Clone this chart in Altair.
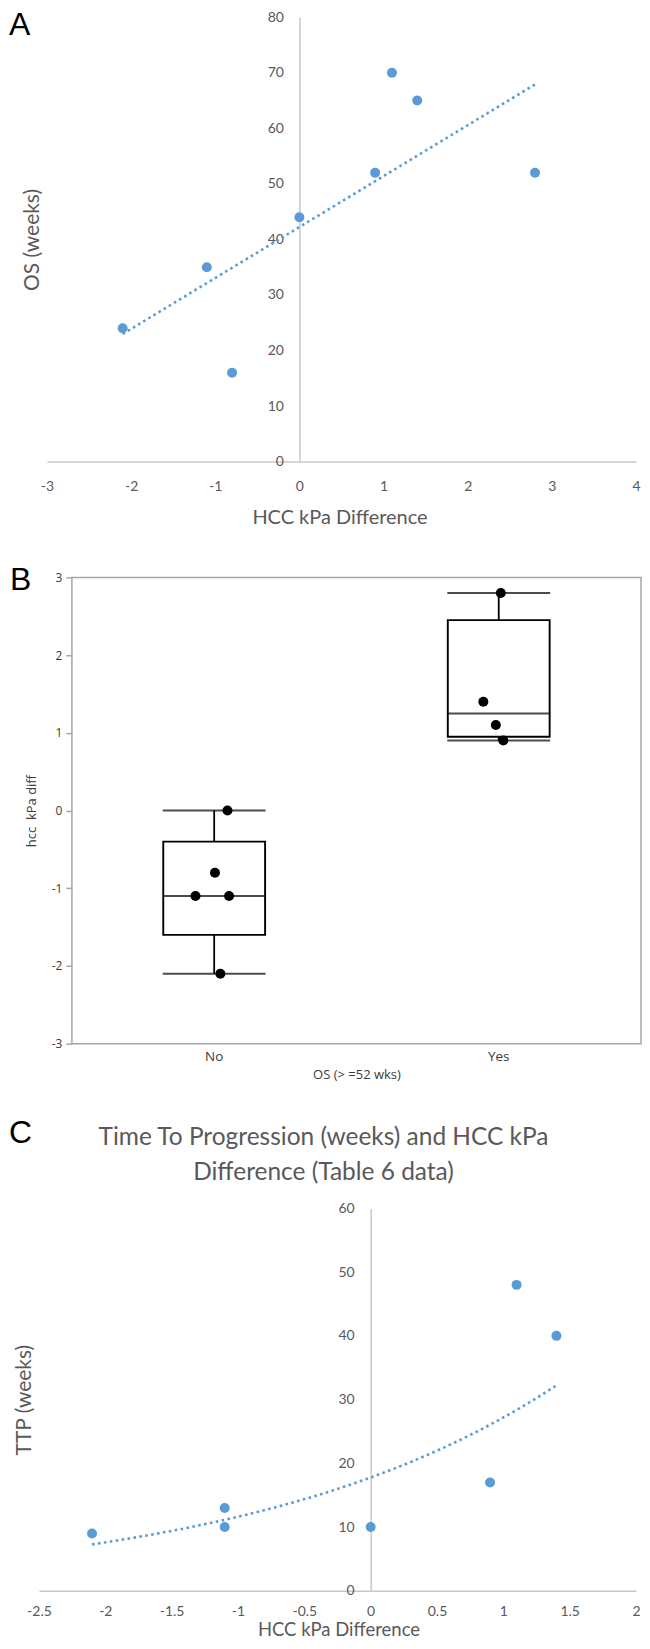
import altair as alt
import numpy as np
import pandas as pd

# ---------------- data ----------------
panel_letters = ["A", "B", "C"]

# Panel A: OS (weeks) vs HCC kPa difference
a_kpa_diff = [-2.1, -1.1, -0.8, 0.0, 0.9, 1.1, 1.4, 2.8]
a_os_weeks = [24, 35, 16, 44, 52, 70, 65, 52]
a_x_ticks = [-3, -2, -1, 0, 1, 2, 3, 4]
a_y_ticks = [0, 10, 20, 30, 40, 50, 60, 70, 80]

# Panel B: box plot of hcc kPa diff by OS >= 52 weeks
b_categories = ["No", "Yes"]
b_group = ["No", "No", "No", "No", "No", "Yes", "Yes", "Yes", "Yes"]
b_kpa = [0.0, -0.8, -1.1, -1.1, -2.1, 2.8, 1.4, 1.1, 0.9]
b_jitter = [13.3, 0.8, -18.7, 14.9, 6.2, 2.1, -15.4, -2.9, 4.6]
b_y_ticks = [-3, -2, -1, 0, 1, 2, 3]

# Panel C: TTP (weeks) vs HCC kPa difference
c_title = ["Time To Progression (weeks) and HCC kPa", "Difference (Table 6 data)"]
c_kpa_diff = [-2.1, -1.1, -1.1, 0.0, 0.9, 1.1, 1.4]
c_ttp_weeks = [9, 13, 10, 10, 17, 48, 40]
c_x_ticks = [-2.5, -2, -1.5, -1, -0.5, 0, 0.5, 1, 1.5, 2]
c_y_ticks = [0, 10, 20, 30, 40, 50, 60]

# ---------------- styles ----------------
XL_FONT = "Lato"
XL_TEXT = "#595959"
XL_AXIS = "#c8c8c8"
XL_BLUE = "#5b9bd5"
JMP_FONT = "Open Sans"
JMP_TEXT = "#3a3a3a"
JMP_FRAME = "#a6a6a6"
LETTER_FONT = "Liberation Sans"
NUM_LABEL = "'' + datum.value"
PAGE_LEFT = 9  # page x where the panel letters start (8px body margin + 1px column)


def letter(ch, x, y):
    return alt.Chart(pd.DataFrame({"t": [ch]})).mark_text(
        font=LETTER_FONT, fontSize=32, color="black", align="left", baseline="top"
    ).encode(text="t:N", x=alt.value(x), y=alt.value(y))


def spacer(x, y_top, y_bottom):
    return alt.Chart(pd.DataFrame({"s": [0]})).mark_rule(
        strokeOpacity=0, strokeWidth=1
    ).encode(x=alt.value(x), y=alt.value(y_top), y2=alt.value(y_bottom))


def blank():
    # 1px wide empty column so each panel is placed by its own left extent
    return alt.Chart(pd.DataFrame({"s": [0]})).mark_rule(
        strokeOpacity=0, strokeWidth=1
    ).encode(x=alt.value(0), y=alt.value(0), y2=alt.value(1)).properties(width=1, height=1)


# ---------------- Panel A ----------------
A_LEFT = 47
A_W, A_H = 590, 445
a_zero = A_W * 3 / 7
a_letter_x = -(A_LEFT - PAGE_LEFT)
dfA = pd.DataFrame({"kpa": a_kpa_diff, "os": a_os_weeks})

a_x = alt.X(
    "kpa:Q",
    scale=alt.Scale(domain=[-3, 4], nice=False, zero=False),
    axis=alt.Axis(
        values=a_x_ticks, labelExpr=NUM_LABEL, title="HCC kPa Difference",
        grid=False, ticks=False, tickSize=0, labelPadding=18, labelFlush=False,
        labelOverlap=False, labelFont=XL_FONT, labelFontSize=14, labelColor=XL_TEXT,
        domainColor=XL_AXIS, domainWidth=1.5, titleFont=XL_FONT, titleFontSize=20,
        titleFontWeight="normal", titleColor=XL_TEXT, titleBaseline="alphabetic",
        titleAlign="center", titleX=340 - A_LEFT, titleY=62,
    ),
)
a_y = alt.Y(
    "os:Q",
    scale=alt.Scale(domain=[0, 80], nice=False, zero=False),
    axis=alt.Axis(
        values=a_y_ticks, orient="left", offset=-a_zero, grid=False, ticks=False,
        tickSize=0, labelPadding=16, labelOverlap=False, labelFont=XL_FONT,
        labelFontSize=14, labelColor=XL_TEXT, domainColor=XL_AXIS, domainWidth=1.5,
        title="OS (weeks)", titleFont=XL_FONT, titleFontSize=21, titleFontWeight="normal",
        titleColor=XL_TEXT, titleAngle=270, titleBaseline="middle", titleAlign="center",
        titleX=32.2 - A_LEFT - a_zero, titleY=A_H / 2,
    ),
)

a_line = alt.Chart(dfA).transform_regression("kpa", "os").mark_line(
    color=XL_BLUE, strokeWidth=2.6, strokeDash=[2.6, 3.4]
).encode(x=a_x, y=a_y)
a_pts = alt.Chart(dfA).mark_circle(size=100, color=XL_BLUE, opacity=1).encode(x=a_x, y=a_y)

panelA = alt.layer(
    spacer(a_letter_x + 2, -7, 530), a_line, a_pts,
    letter(panel_letters[0], a_letter_x, -7),
).properties(width=A_W, height=A_H)

# ---------------- Panel B ----------------
B_LEFT = 71
B_W, B_H = 570, 467
b_letter_x = -(B_LEFT - PAGE_LEFT)
dfBpts = pd.DataFrame({"group": b_group, "kpa": b_kpa, "jit": b_jitter})
rows = []
for cat in b_categories:
    vals = np.array([v for g, v in zip(b_group, b_kpa) if g == cat])
    q1, med, q3 = np.percentile(vals, [25, 50, 75], method="weibull")
    rows.append(dict(group=cat, lo=vals.min(), q1=q1, med=med, q3=q3, hi=vals.max()))
dfBstats = pd.DataFrame(rows)
dfBticks = dfBstats.melt(id_vars="group", value_vars=["lo", "med", "hi"], value_name="v")

b_x = alt.X(
    "group:N", scale=alt.Scale(domain=b_categories, paddingInner=0, paddingOuter=0),
    axis=alt.Axis(
        title="OS (> =52 wks)", labelAngle=0, ticks=False, tickSize=0, domain=False,
        grid=False, labelPadding=6, labelFont=JMP_FONT, labelFontSize=13.5,
        labelColor=JMP_TEXT, titleFont=JMP_FONT, titleFontSize=13,
        titleFontWeight="normal", titleColor=JMP_TEXT, titleBaseline="alphabetic",
        titleAlign="center", titleX=B_W / 2, titleY=35,
    ),
)
b_y_scale = alt.Scale(domain=[-3, 3], nice=False, zero=False)
b_y_axis = alt.Axis(
    values=b_y_ticks, labelExpr=NUM_LABEL, grid=False, domain=False, ticks=True,
    tickSize=6, tickColor=JMP_FRAME, tickWidth=1.5, labelPadding=4,
    labelFont=JMP_FONT, labelFontSize=12, labelColor=JMP_TEXT,
    title="hcc\u00a0 kPa diff", titleFont=JMP_FONT, titleFontSize=13,
    titleFontWeight="normal", titleColor=JMP_TEXT, titleAngle=270,
    titleBaseline="middle", titleAlign="center", titleX=31 - B_LEFT, titleY=B_H / 2,
)

b_whisk = alt.Chart(dfBstats).mark_rule(color="black", strokeWidth=1.8).encode(
    x=b_x, y=alt.Y("lo:Q", scale=b_y_scale, axis=b_y_axis), y2="hi:Q"
)
b_box = alt.Chart(dfBstats).mark_bar(
    size=102, fill="white", stroke="black", strokeWidth=1.9
).encode(x=b_x, y=alt.Y("q1:Q", scale=b_y_scale, axis=b_y_axis), y2="q3:Q")
b_ticks = alt.Chart(dfBticks).mark_tick(color="black", thickness=2, size=103).encode(
    x=b_x, y=alt.Y("v:Q", scale=b_y_scale, axis=b_y_axis)
)
b_pts = alt.Chart(dfBpts).mark_circle(size=100, color="black", opacity=1).encode(
    x=b_x,
    xOffset=alt.XOffset("jit:Q", scale=alt.Scale(domain=[-B_W / 4, B_W / 4])),
    y=alt.Y("kpa:Q", scale=b_y_scale, axis=b_y_axis),
)

panelB = alt.layer(
    spacer(b_letter_x + 2, -30, 525), b_whisk, b_box, b_ticks, b_pts,
    letter(panel_letters[1], b_letter_x, -12.4),
).properties(
    width=B_W, height=B_H,
    view=alt.ViewBackground(stroke=JMP_FRAME, strokeWidth=1.5),
)

# ---------------- Panel C ----------------
C_LEFT = 39
C_W, C_H = 598, 383
c_zero = C_W * 2.5 / 4.5
c_letter_x = -(C_LEFT - PAGE_LEFT)
dfC = pd.DataFrame({"kpa": c_kpa_diff, "ttp": c_ttp_weeks})

c_x = alt.X(
    "kpa:Q", scale=alt.Scale(domain=[-2.5, 2], nice=False, zero=False),
    axis=alt.Axis(
        values=c_x_ticks, labelExpr=NUM_LABEL, title="HCC kPa Difference",
        grid=False, ticks=False, tickSize=0, labelPadding=14, labelFlush=False,
        labelOverlap=False, labelFont=XL_FONT, labelFontSize=14, labelColor=XL_TEXT,
        domainColor=XL_AXIS, domainWidth=1.5, titleFont=XL_FONT, titleFontSize=18.5,
        titleFontWeight="normal", titleColor=XL_TEXT, titleBaseline="alphabetic",
        titleAlign="center", titleX=339 - C_LEFT, titleY=45,
    ),
)
c_y_scale = alt.Scale(domain=[0, 60], nice=False, zero=False)
c_y_axis = alt.Axis(
    values=c_y_ticks, orient="left", offset=-c_zero, grid=False, ticks=False,
    tickSize=0, labelPadding=16.5, labelOverlap=False, labelFont=XL_FONT,
    labelFontSize=14, labelColor=XL_TEXT, domainColor=XL_AXIS, domainWidth=1.5,
    title="TTP (weeks)", titleFont=XL_FONT, titleFontSize=21,
    titleFontWeight="normal", titleColor=XL_TEXT, titleAngle=270,
    titleBaseline="middle", titleAlign="center",
    titleX=25 - C_LEFT - c_zero, titleY=C_H / 2,
)

c_line = alt.Chart(dfC).transform_calculate(
    ln_ttp="log(datum.ttp)"
).transform_regression(
    "kpa", "ln_ttp", method="poly", order=1
).transform_calculate(
    fit="exp(datum.ln_ttp)"
).mark_line(color=XL_BLUE, strokeWidth=2.6, strokeDash=[2.6, 3.4]).encode(
    x=c_x, y=alt.Y("fit:Q", scale=c_y_scale, axis=c_y_axis),
)
c_pts = alt.Chart(dfC).mark_circle(size=100, color=XL_BLUE, opacity=1).encode(
    x=c_x, y=alt.Y("ttp:Q", scale=c_y_scale, axis=c_y_axis)
)

c_title_mark = alt.Chart(pd.DataFrame({"t": ["\n".join(c_title)]})).mark_text(
    font=XL_FONT, fontSize=24.5, color=XL_TEXT, align="center", baseline="alphabetic",
    lineBreak="\n", lineHeight=35,
).encode(text="t:N", x=alt.value(324 - C_LEFT), y=alt.value(-63.3))

panelC = alt.layer(
    spacer(c_letter_x + 2, -106, C_H + 40), c_line, c_pts, c_title_mark,
    letter(panel_letters[2], c_letter_x, -90.4),
).properties(width=C_W, height=C_H)

chart = alt.vconcat(
    alt.hconcat(blank(), panelA, spacing=0),
    alt.hconcat(blank(), panelB, spacing=0),
    alt.hconcat(blank(), panelC, spacing=0),
    spacing=0,
).properties(padding=0).configure_view(strokeWidth=0).configure_concat(spacing=0)

chart.save("out.html", embed_options={"renderer": "svg", "actions": False})
